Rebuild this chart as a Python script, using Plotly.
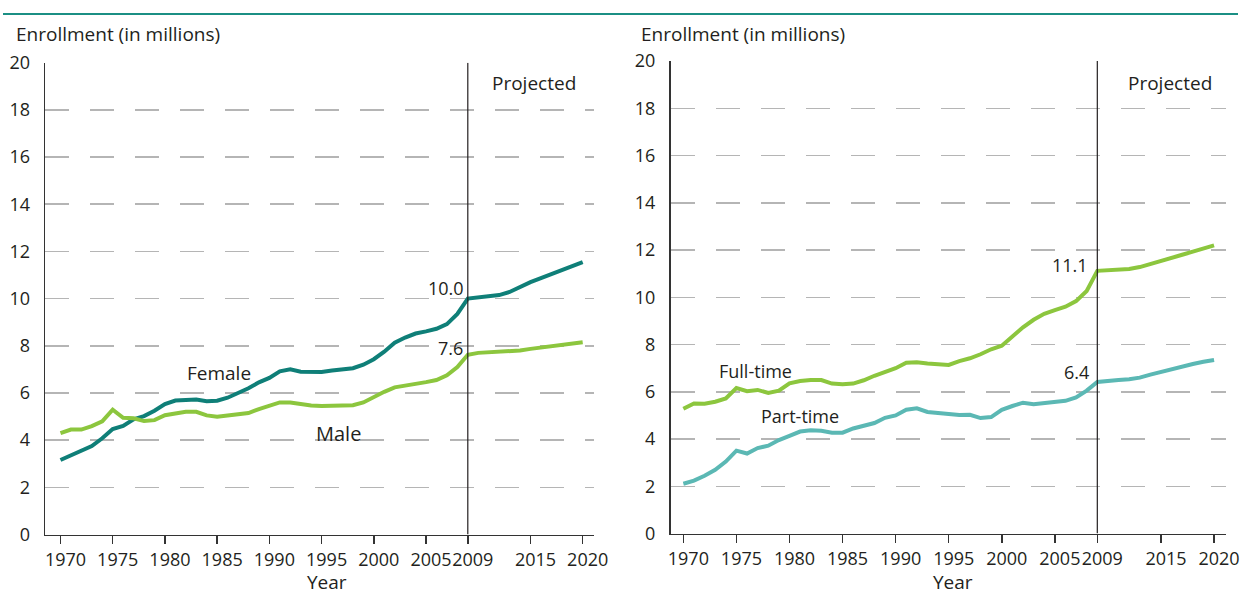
import plotly.graph_objects as go

years = list(range(1970, 2021))

female = [3.16, 3.35, 3.55, 3.75, 4.08, 4.47, 4.60, 4.88, 5.02, 5.25,
          5.53, 5.68, 5.70, 5.72, 5.65, 5.67, 5.80, 6.00, 6.20, 6.45,
          6.64, 6.92, 7.00, 6.90, 6.89, 6.89, 6.95, 7.02, 7.05, 7.20,
          7.43, 7.75, 8.13, 8.35, 8.52, 8.61, 8.72, 8.92, 9.35, 10.00,
          10.05, 10.10, 10.15, 10.28, 10.50, 10.70, 10.87, 11.05, 11.22, 11.40, 11.55]
male = [4.30, 4.45, 4.45, 4.60, 4.80, 5.29, 4.95, 4.93, 4.81, 4.85,
        5.06, 5.15, 5.20, 5.20, 5.05, 4.99, 5.03, 5.08, 5.15, 5.32,
        5.45, 5.60, 5.60, 5.52, 5.47, 5.45, 5.46, 5.50, 5.48, 5.60,
        5.83, 6.05, 6.24, 6.30, 6.40, 6.46, 6.55, 6.75, 7.10, 7.62,
        7.70, 7.72, 7.72, 7.75, 7.80, 7.87, 7.92, 7.97, 8.02, 8.08, 8.15]
full_time = [5.28, 5.51, 5.50, 5.58, 5.72, 6.16, 6.03, 6.08, 5.95, 6.05,
             6.36, 6.46, 6.50, 6.50, 6.35, 6.32, 6.35, 6.49, 6.68, 6.86,
             7.00, 7.23, 7.25, 7.20, 7.18, 7.14, 7.30, 7.42, 7.59, 7.80,
             7.95, 8.35, 8.73, 9.05, 9.30, 9.46, 9.60, 9.84, 10.27, 11.12,
             11.15, 11.20, 11.20, 11.28, 11.42, 11.55, 11.67, 11.80, 11.93, 12.07, 12.20]
part_time = [2.11, 2.24, 2.45, 2.70, 3.05, 3.51, 3.39, 3.62, 3.72, 3.96,
             4.14, 4.32, 4.37, 4.35, 4.27, 4.27, 4.45, 4.57, 4.68, 4.90,
             5.00, 5.24, 5.30, 5.15, 5.10, 5.08, 5.02, 5.03, 4.89, 4.93,
             5.24, 5.40, 5.54, 5.47, 5.52, 5.53, 5.62, 5.76, 6.05, 6.42,
             6.48, 6.50, 6.53, 6.60, 6.73, 6.85, 6.97, 7.08, 7.18, 7.27, 7.35]

x_tick_vals = [1970, 1975, 1980, 1985, 1990, 1995, 2000, 2005, 2009, 2015, 2020]
x_tick_text = [str(v) for v in x_tick_vals]
y_tick_vals = list(range(0, 21, 2))

TEAL = "#0f7f78"
GREEN = "#8cc63e"
LTEAL = "#5bb8b4"
TXT = "#231f20"
FONT = "Open Sans"

fig = go.Figure()
fig.add_trace(go.Scatter(x=years, y=female, mode="lines", line=dict(color=TEAL, width=4),
                         xaxis="x", yaxis="y", hoverinfo="skip"))
fig.add_trace(go.Scatter(x=years, y=male, mode="lines", line=dict(color=GREEN, width=4),
                         xaxis="x", yaxis="y", hoverinfo="skip"))
fig.add_trace(go.Scatter(x=years, y=full_time, mode="lines", line=dict(color=GREEN, width=4),
                         xaxis="x2", yaxis="y2", hoverinfo="skip"))
fig.add_trace(go.Scatter(x=years, y=part_time, mode="lines", line=dict(color=LTEAL, width=4),
                         xaxis="x2", yaxis="y2", hoverinfo="skip"))

W, H = 1252, 600

def xax(domain, rng):
    return dict(domain=domain, range=rng, tickvals=x_tick_vals, ticktext=x_tick_text,
                showgrid=False, zeroline=False, showline=True, linecolor="#333333", linewidth=1.5,
                ticks="outside", ticklen=8, tickwidth=1.5, tickcolor="#333333",
                tickfont=dict(family=FONT, size=18, color=TXT), tickangle=0,
                ticklabelshift=5, ticklabelstandoff=0, fixedrange=True)

def yax(domain, anchor):
    return dict(domain=domain, range=[0, 20], tickvals=y_tick_vals, anchor=anchor,
                showgrid=True, gridcolor="#b5b5b5", gridwidth=1.5, griddash="24px,21px",
                zeroline=False, showline=True, linecolor="#333333", linewidth=1.5,
                ticks="", tickfont=dict(family=FONT, size=18, color=TXT),
                ticklabelstandoff=10, fixedrange=True)

fig.update_layout(
    width=W, height=H,
    margin=dict(l=0, r=0, t=0, b=0),
    paper_bgcolor="white", plot_bgcolor="white",
    showlegend=False,
    xaxis=dict(**xax([42.7 / W, 599 / W], [1968.53, 2021.07]), anchor="y"),
    yaxis=yax([1 - 543.3 / H, 1 - 51.7 / H], "x"),
    xaxis2=dict(**xax([676.7 / W, 1240 / W], [1968.79, 2021.14]), anchor="y2"),
    yaxis2=yax([1 - 542.3 / H, 1 - 50 / H], "x2"),
)

shapes = [
    dict(type="line", xref="x", yref="y", x0=2009, x1=2009, y0=0, y1=20,
         line=dict(color=TXT, width=1.2)),
    dict(type="line", xref="x2", yref="y2", x0=2009, x1=2009, y0=0, y1=20,
         line=dict(color=TXT, width=1.2)),
    dict(type="line", xref="paper", yref="paper", x0=0, x1=1, y0=1 - 1 / H, y1=1 - 1 / H,
         line=dict(color="#1b8f84", width=2)),
]
fig.update_layout(shapes=shapes)

def ann(text, x, y, xref, yref, xanchor="center", size=19):
    return dict(text=text, x=x, y=y, xref=xref, yref=yref, xanchor=xanchor, yanchor="middle",
                showarrow=False, font=dict(family=FONT, size=size, color=TXT))

annotations = [
    ann("Enrollment (in millions)", 11 / W, 1 - 22 / H, "paper", "paper", "left"),
    ann("Enrollment (in millions)", 645 / W, 1 - 22 / H, "paper", "paper", "left"),
    ann("Year", 328 / W, 1 - 593 / H, "paper", "paper"),
    ann("Year", 963 / W, 1 - 593 / H, "paper", "paper"),
    ann("Projected", 2011.15, 19.13, "x", "y", "left"),
    ann("Projected", 2011.67, 19.07, "x2", "y2", "left"),
    ann("Female", 1985.2, 6.85, "x", "y"),
    ann("Male", 1996.6, 4.28, "x", "y", size=20),
    ann("10.0", 2008.85, 10.47, "x", "y", "right", size=18),
    ann("7.6", 2008.75, 7.90, "x", "y", "right", size=18),
    ann("Full-time", 1976.8, 6.88, "x2", "y2", size=18),
    ann("Part-time", 1981.0, 4.97, "x2", "y2", size=18),
    ann("11.1", 2008.3, 11.37, "x2", "y2", "right", size=18),
    ann("6.4", 2008.45, 6.84, "x2", "y2", "right", size=18),
]
fig.update_layout(annotations=annotations)

fig.write_html(
    "out.html",
    config={"displayModeBar": False, "staticPlot": True},
    post_script="document.body.style.margin='0';document.body.style.overflow='hidden';",
)
